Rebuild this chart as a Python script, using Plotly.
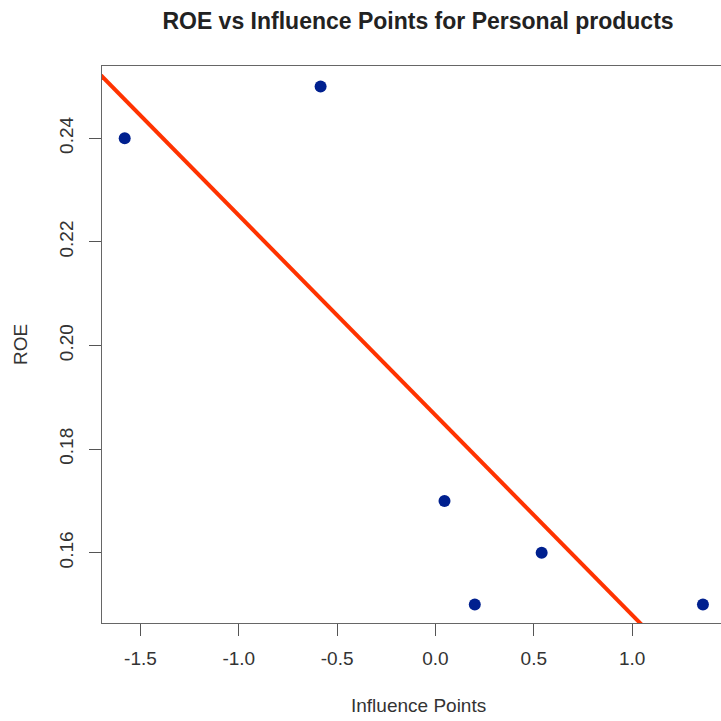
import numpy as np
import plotly.graph_objects as go

influence = [-1.58, -0.584, 0.046, 0.20, 0.54, 1.36]
roe = [0.24, 0.25, 0.17, 0.15, 0.16, 0.15]
x_ticks = [-1.5, -1.0, -0.5, 0.0, 0.5, 1.0]
x_tick_labels = ["-1.5", "-1.0", "-0.5", "0.0", "0.5", "1.0"]
y_ticks = [0.16, 0.18, 0.20, 0.22, 0.24]
y_tick_labels = ["0.16", "0.18", "0.20", "0.22", "0.24"]

slope, intercept = np.polyfit(influence, roe, 1)
fit_x = [-3.0, 3.0]
fit_y = [intercept + slope * v for v in fit_x]

W = H = 721
L, R_, T, B = 102, 721, 66, 623
PW, PH = R_ - L, B - T

fig = go.Figure()
fig.add_trace(go.Scatter(x=influence, y=roe, mode="markers",
                         marker=dict(size=12, color="#00208f"), showlegend=False))
fig.add_trace(go.Scatter(x=fit_x, y=fit_y, mode="lines",
                         line=dict(color="#ff3300", width=4), showlegend=False))

font = "Liberation Sans, Arial, sans-serif"
fig.update_layout(
    width=W, height=H,
    margin=dict(l=L, r=W - R_, t=T, b=H - B),
    paper_bgcolor="white", plot_bgcolor="white",
    font=dict(family=font, color="#333"),
    title=dict(text="<b>ROE vs Influence Points for Personal products</b>",
               xref="container", yref="container", x=418 / W, xanchor="center",
               y=1 - 21 / H, yanchor="middle",
               font=dict(size=23, color="#222", family=font)),
    annotations=[
        dict(text="ROE", xref="paper", yref="paper",
             x=(20.5 - L) / PW, y=(B - 344.5) / PH, xanchor="center", yanchor="middle",
             textangle=-90, showarrow=False, font=dict(size=19, color="#333", family=font)),
        dict(text="Influence Points", xref="paper", yref="paper",
             x=(418 - L) / PW, y=(B - 705) / PH, xanchor="center", yanchor="middle",
             showarrow=False, font=dict(size=19, color="#333", family=font)),
    ],
)
fig.update_xaxes(range=[-1.6954, 1.4518], tickvals=x_ticks, ticktext=x_tick_labels,
                 ticks="outside", ticklen=12, tickcolor="#555", tickwidth=1,
                 showline=True, linecolor="#666", linewidth=1, mirror=True,
                 showgrid=False, zeroline=False, ticklabelstandoff=6,
                 tickfont=dict(size=19, color="#333"))
fig.update_yaxes(range=[0.14644, 0.25395], tickvals=y_ticks, ticktext=y_tick_labels,
                 ticks="outside", ticklen=12, tickcolor="#555", tickwidth=1,
                 showline=True, linecolor="#666", linewidth=1, mirror=True,
                 showgrid=False, zeroline=False, tickangle=-90, ticklabelstandoff=8,
                 tickfont=dict(size=19, color="#333"))

fig.write_html("out.html")
